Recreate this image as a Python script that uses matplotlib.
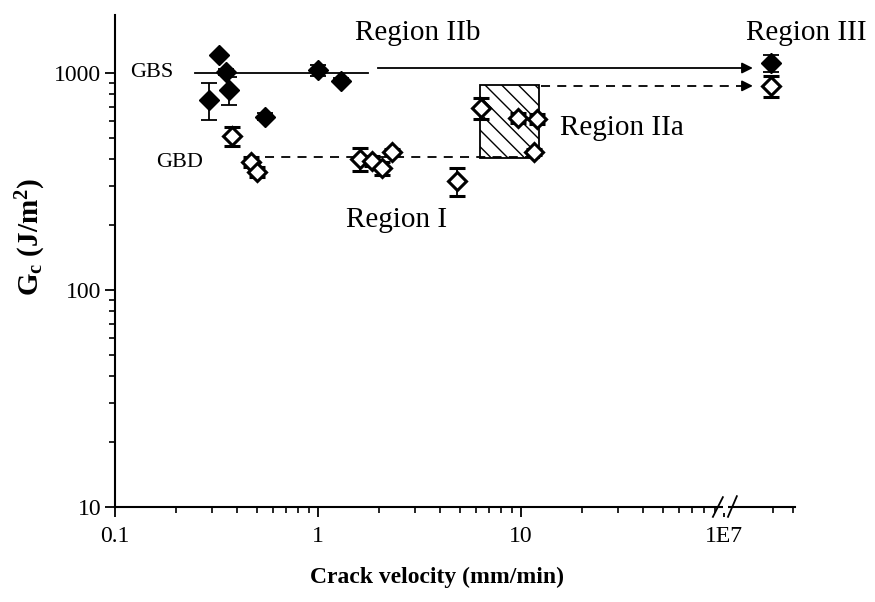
import numpy as np
import matplotlib
matplotlib.use("Agg")
import matplotlib.pyplot as plt
from matplotlib.patches import Rectangle
from matplotlib.ticker import FixedLocator, NullFormatter

plt.rcParams['font.family'] = ['Liberation Serif', 'DejaVu Serif']
plt.rcParams['mathtext.fontset'] = 'custom'
plt.rcParams['mathtext.rm'] = 'Liberation Serif'
plt.rcParams['mathtext.bf'] = 'Liberation Serif:bold'
plt.rcParams['mathtext.it'] = 'Liberation Serif:italic'

# grain boundary sliding (filled) and grain boundary debonding (open), mm/min vs J/m^2
gbs_v = [0.29, 0.325, 0.352, 0.365, 0.55, 1.0, 1.3, 1.7e7]
gbs_g = [750, 1210, 1010, 835, 630, 1030, 920, 1110]
gbs_err = [145, 0, 30, 125, 25, 60, 25, 100]

gbd_v = [0.377, 0.468, 0.50, 1.61, 1.85, 2.06, 2.31, 4.84, 6.35, 9.66, 12.0, 11.6, 1.7e7]
gbd_g = [513, 389, 350, 402, 393, 365, 432, 318, 690, 621, 614, 432, 871]
gbd_err = [50, 20, 20, 50, 20, 25, 15, 48, 75, 30, 30, 15, 100]

gbs_level = 1000
gbd_level = 410
region2a_v = (6.3, 12.3)
region2a_g = (405, 880)

x_ticks = [0.1, 1, 10, 1e7]
x_ticklabels = ['0.1', '1', '10', '1E7']
y_ticks = [10, 100, 1000]


def to_axis(v):
    # velocities past the axis break are shifted so 1E7 sits one decade after 10
    v = np.asarray(v, dtype=float)
    return np.where(v > 1e3, v / 1e5, v)


fig = plt.figure(figsize=(8.75, 6.02), dpi=100)
ax = fig.add_axes([0.1314, 0.1578, 0.7771, 0.8173])
ax.set_xscale('log')
ax.set_yscale('log')
ax.set_xlim(0.1, 224)
ax.set_ylim(10, 1850)

for s in ['top', 'right']:
    ax.spines[s].set_visible(False)
for s in ['left', 'bottom']:
    ax.spines[s].set_linewidth(1.5)

# hatched Region IIa box
box = Rectangle((region2a_v[0], region2a_g[0]), region2a_v[1] - region2a_v[0],
                region2a_g[1] - region2a_g[0], facecolor='white', edgecolor='black',
                hatch='\\\\', linewidth=1.3, zorder=1)
ax.add_patch(box)

# reference levels
ax.plot([0.248, 1.76], [gbs_level, gbs_level], color='black', lw=1.3, zorder=1)
ax.plot([0.55, region2a_v[1]], [gbd_level, gbd_level], color='black', lw=1.3,
        dashes=(5, 4), zorder=1)

# arrows towards Region III
arrow_end = float(to_axis(1.39e7))
ax.plot([1.98, arrow_end * 0.95], [1054, 1054], color='black', lw=1.3)
ax.annotate('', xy=(arrow_end, 1054), xytext=(arrow_end * 0.9, 1054),
            arrowprops=dict(arrowstyle='-|>', mutation_scale=16, lw=1.3, color='black',
                            shrinkA=0, shrinkB=0))
ax.plot([12.6, arrow_end * 0.95], [872, 872], color='black', lw=1.3, dashes=(5, 4))
ax.annotate('', xy=(arrow_end, 872), xytext=(arrow_end * 0.9, 872),
            arrowprops=dict(arrowstyle='-|>', mutation_scale=16, lw=1.3, color='black',
                            shrinkA=0, shrinkB=0))

# data
ax.errorbar(to_axis(gbd_v), gbd_g, yerr=gbd_err, fmt='D', ms=9, mfc='white', mec='black',
            mew=2.2, ecolor='black', elinewidth=1.3, capsize=6, capthick=1.3, zorder=3)
ax.errorbar(to_axis(gbs_v), gbs_g, yerr=gbs_err, fmt='D', ms=10, mfc='black', mec='black',
            ecolor='black', elinewidth=1.3, capsize=6, capthick=1.3, zorder=4)

# ticks
ax.xaxis.set_major_locator(FixedLocator(to_axis(x_ticks)))
ax.set_xticklabels(x_ticklabels)
minor_x = [m * d for d in (0.1, 1, 10) for m in range(2, 10)] + [175, 220]
ax.xaxis.set_minor_locator(FixedLocator(minor_x))
ax.xaxis.set_minor_formatter(NullFormatter())
ax.yaxis.set_major_locator(FixedLocator(y_ticks))
ax.set_yticklabels([str(t) for t in y_ticks])
minor_y = [m * d for d in (10, 100, 1000) for m in range(2, 10)]
ax.yaxis.set_minor_locator(FixedLocator([t for t in minor_y if t < 1850]))
ax.yaxis.set_minor_formatter(NullFormatter())
ax.tick_params(which='major', direction='out', length=7, width=1.3, labelsize=17)
ax.tick_params(which='minor', direction='out', length=4, width=1.2)
ax.tick_params(axis='x', which='major', pad=7)
ax.tick_params(axis='y', which='major', pad=3)

# axis break on the velocity axis
xt = ax.get_xaxis_transform()
ax.add_patch(Rectangle((98.9, -0.012), 5.9, 0.024, transform=xt, facecolor='white',
                       edgecolor='none', clip_on=False, zorder=5))
ax.plot([88.3, 98.9], [-0.02, 0.02], transform=xt, color='black', lw=1.3, clip_on=False, zorder=6)
ax.plot([104.8, 115.9], [-0.02, 0.022], transform=xt, color='black', lw=1.3, clip_on=False, zorder=6)

ax.set_xlabel('Crack velocity (mm/min)', fontsize=17, fontweight='bold')
ax.xaxis.set_label_coords(0.474, -0.122)
ax.set_ylabel(r'G$_{\mathbf{c}}$ (J/m$^{\mathbf{2}}$)', fontsize=21, fontweight='bold')
ax.yaxis.set_label_coords(-0.098, 0.549)

# annotations
ax.text(3.11, 1528, 'Region IIb', fontsize=21, ha='center', va='center')
ax.text(256, 1528, 'Region III', fontsize=21, ha='center', va='center')
ax.text(31.4, 558, 'Region IIa', fontsize=21, ha='center', va='center')
ax.text(2.45, 210, 'Region I', fontsize=21, ha='center', va='center')
ax.text(0.152, 1000, 'GBS', fontsize=16, ha='center', va='center')
ax.text(0.209, 385, 'GBD', fontsize=16, ha='center', va='center')

fig.savefig('out.png', dpi=100)
